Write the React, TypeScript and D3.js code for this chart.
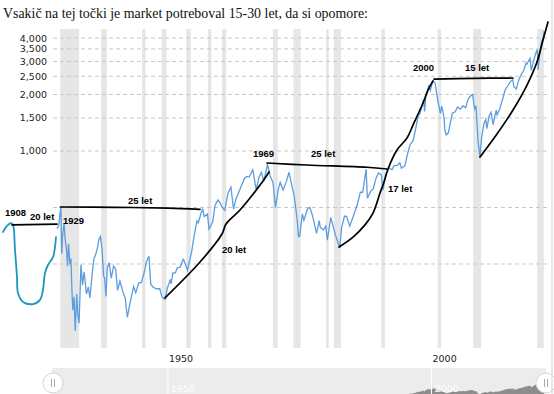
import React from "react";
import * as d3 from "d3";

const title = "Vsakič na tej točki je market potreboval 15-30 let, da si opomore:";

// Log value axis
const gridValues = [250, 500, 1000, 1500, 2000, 2500, 3000, 3500, 4000];
const labelValues = [1000, 1500, 2000, 2500, 3000, 3500, 4000];
const xLabelYears = [1950, 2000];

// Recessions (start, end) in decimal years
const recessionStarts = [1929.58, 1937.33, 1945.08, 1948.83, 1953.5, 1957.58, 1960.25, 1969.92, 1973.83, 1980.0, 1981.5, 1990.5, 2001.17, 2007.92, 2020.08];
const recessionEnds = [1933.17, 1938.42, 1945.75, 1949.75, 1954.33, 1958.25, 1961.08, 1970.83, 1975.17, 1980.5, 1982.83, 1991.17, 2001.83, 2009.42, 2021.3];

// Inflation-adjusted index
const dates = [
  1929.0, 1929.3, 1929.5, 1929.7, 1929.8, 1929.87, 1930.0, 1930.3, 1930.5, 1930.8, 1930.95,
  1931.15, 1931.4, 1931.6, 1931.8, 1931.95, 1932.2, 1932.42, 1932.7, 1932.9, 1933.15, 1933.5,
  1933.8, 1934.1, 1934.55, 1934.9, 1935.2, 1935.6, 1935.95, 1936.3, 1936.6, 1936.9, 1937.2,
  1937.5, 1937.8, 1938.0, 1938.25, 1938.5, 1938.85, 1939.25, 1939.7, 1940.1, 1940.45, 1940.9,
  1941.4, 1941.9, 1942.3, 1942.8, 1943.5, 1943.9, 1944.5, 1944.95, 1945.5, 1945.95, 1946.4,
  1946.75, 1947.2, 1947.9, 1948.45, 1948.9, 1949.45, 1949.9, 1950.45, 1950.6, 1950.95, 1951.4,
  1951.8, 1952.3, 1952.9, 1953.0, 1953.7, 1954.5, 1954.95, 1955.5, 1955.75, 1956.3, 1956.6,
  1956.9, 1957.5, 1957.8, 1958.5, 1958.95, 1959.5, 1959.9, 1960.3, 1960.8, 1961.4, 1961.95,
  1962.45, 1962.9, 1963.5, 1963.95, 1964.5, 1964.95, 1965.45, 1965.95, 1966.1, 1966.75, 1967.3,
  1967.75, 1968.2, 1968.9, 1969.4, 1969.95, 1970.4, 1970.95, 1971.3, 1971.85, 1972.5, 1972.98,
  1973.6, 1973.95, 1974.5, 1974.78, 1975.0, 1975.5, 1975.8, 1976.5, 1976.95, 1977.5, 1978.2,
  1978.7, 1978.9, 1979.5, 1979.95, 1980.25, 1980.9, 1981.4, 1981.8, 1982.6, 1982.95, 1983.5,
  1983.9, 1984.5, 1984.95, 1985.5, 1985.95, 1986.5, 1986.95, 1987.6, 1987.85, 1988.5, 1988.95,
  1989.5, 1989.95, 1990.5, 1990.8, 1991.3, 1991.95, 1992.5, 1992.95, 1993.5, 1994.0, 1994.3,
  1994.95, 1995.5, 1995.95, 1996.5, 1996.95, 1997.5, 1997.8, 1998.5, 1998.7, 1998.95, 1999.5,
  1999.8, 2000.2, 2000.7, 2001.0, 2001.3, 2001.7, 2001.95, 2002.4, 2002.55, 2002.8, 2003.2,
  2003.95, 2004.5, 2004.95, 2005.5, 2005.95, 2006.5, 2006.95, 2007.5, 2007.8, 2008.2, 2008.45,
  2008.85, 2009.2, 2009.5, 2009.95, 2010.3, 2010.5, 2010.95, 2011.3, 2011.7, 2011.95, 2012.3,
  2012.45, 2012.95, 2013.5, 2013.95, 2014.5, 2014.95, 2015.4, 2015.65, 2016.1, 2016.5, 2016.95,
  2017.5, 2017.95, 2018.1, 2018.7, 2018.95, 2019.5, 2019.95, 2020.1, 2020.22, 2020.5, 2020.7,
  2020.95, 2021.2, 2021.35,
];
const values = [
  385, 403, 458, 498, 332, 284, 348, 413, 340, 292, 243,
  320, 249, 267, 178, 142, 167, 110, 173, 136, 121, 248,
  193, 227, 173, 189, 165, 217, 266, 281, 301, 338, 350,
  300, 216, 210, 168, 239, 254, 210, 244, 234, 181, 203,
  180, 164, 130, 154, 190, 176, 199, 199, 225, 258, 275,
  195, 188, 184, 185, 166, 162, 186, 207, 196, 224, 224,
  239, 240, 265, 263, 232, 290, 350, 424, 414, 467, 490,
  447, 461, 384, 420, 514, 548, 529, 502, 483, 596, 641,
  492, 554, 609, 653, 714, 732, 728, 780, 795, 625, 727,
  768, 690, 850, 736, 677, 501, 626, 680, 620, 691, 770,
  638, 578, 438, 350, 351, 462, 427, 494, 499, 446, 364,
  426, 393, 379, 398, 335, 443, 392, 356, 305, 389, 450,
  447, 398, 432, 477, 520, 603, 603, 800, 560, 611, 629,
  719, 763, 745, 620, 748, 812, 795, 835, 838, 865, 810,
  834, 974, 1080, 1135, 1290, 1546, 1579, 1876, 1627, 1992, 2219,
  2106, 2360, 2308, 2022, 1794, 1581, 1733, 1500, 1290, 1217, 1250,
  1588, 1616, 1716, 1670, 1739, 1702, 1889, 1976, 2002, 1675, 1738,
  1125, 925, 1172, 1399, 1476, 1314, 1538, 1608, 1380, 1500, 1652,
  1558, 1676, 1891, 2100, 2234, 2337, 2405, 2200, 2138, 2363, 2531,
  2684, 2937, 2903, 3118, 2688, 3115, 3411, 3442, 2700, 3233, 3494,
  3880, 3950, 4350,
];

// Hand-drawn annotations, as [year, value]
const line1908: [number, number][] = [[1920.42, 404], [1928.96, 408]];
const loop1908: [number, number][] = [
  [1918.71, 370], [1919.47, 399], [1920.23, 413], [1920.61, 404], [1920.99, 297], [1921.37, 213],
  [1921.56, 175], [1922.51, 157], [1924.41, 153], [1925.73, 161], [1926.3, 182], [1926.68, 224],
  [1927.25, 247], [1928.2, 272], [1928.58, 308], [1928.77, 348],
];
const flat1929: [number, number][] = [[1929.6, 503], [1940, 501], [1950, 496], [1956.1, 489]];
const rise1949: [number, number][] = [
  [1949.45, 165], [1956.09, 256], [1960.26, 361], [1961.02, 408], [1963.68, 485], [1968.04, 692], [1969.18, 773],
];
const flat1969: [number, number][] = [[1968.8, 863], [1976.39, 842], [1987.77, 819], [1991.57, 802]];
const rise1982: [number, number][] = [
  [1982.46, 308], [1985.12, 348], [1987.39, 404], [1988.91, 467], [1990.24, 597], [1991.0, 684],
  [1991.76, 802], [1993.46, 1012], [1995.36, 1173], [1996.5, 1375], [1998.4, 1802], [1999.35, 2113], [2000.29, 2360],
];
const flat2000: [number, number][] = [[2000.48, 2418], [2008, 2440], [2015.47, 2448]];
const rise2009: [number, number][] = [
  [2009.21, 929], [2012.43, 1232], [2015.47, 1654], [2018.13, 2247], [2020.02, 2980], [2021.16, 3903], [2022.11, 4868],
];

const noteTexts = ["1908", "20 let", "1929", "25 let", "20 let", "1969", "25 let", "17 let", "2000", "15 let"];
const noteYears = [1919.09, 1923.84, 1930.1, 1942.43, 1960.26, 1966.14, 1977.15, 1991.76, 1996.5, 2006.36];
const noteValues = [450, 429, 408, 522, 286, 929, 929, 605, 2668, 2668];

const W = 554;
const H = 394;
const left = 53;
const right = 549;
const top = 29;
const bottom = 348;

export default function App() {
  const x = d3.scaleLinear().domain([1928.2, 2022.3]).range([left, right]);
  const y = d3.scaleLog().domain([89.2, 4467]).range([bottom, top]);

  const series = dates.map((d, i) => [d, values[i]] as [number, number]);
  const line = d3.line<[number, number]>().x((d) => x(d[0])).y((d) => y(d[1]));
  const hand = d3
    .line<[number, number]>()
    .x((d) => x(d[0]))
    .y((d) => y(d[1]))
    .curve(d3.curveCatmullRom.alpha(0.5));

  // scrollbar
  const sbTop = 368;
  const sbLeft = 52;
  const sbRight = 546;
  const ys = d3.scaleLinear().domain([0, 4500]).range([398, 380]);
  const area = d3
    .area<[number, number]>()
    .x((d) => x(d[0]))
    .y0(398)
    .y1((d) => ys(d[1]));

  const font = "'DejaVu Sans', Verdana, sans-serif";
  const bold = "'Liberation Sans', Arial, sans-serif";

  return (
    <svg
      width={W}
      height={H}
      style={{ position: "absolute", left: 0, top: 0, background: "#fff" }}
    >
      <rect x={0} y={0} width={W} height={H} fill="#fff" />
      <text x={3} y={17.5} fontFamily="'Liberation Serif', 'Times New Roman', serif" fontSize={13.9} fill="#111">
        {title}
      </text>

      <defs>
        <clipPath id="plot">
          <rect x={left} y={top} width={right - left} height={bottom - top} />
        </clipPath>
      </defs>

      {recessionStarts.map((s, i) => (
        <rect
          key={"r" + i}
          x={x(s)}
          y={top}
          width={Math.max(1, x(recessionEnds[i]) - x(s))}
          height={bottom - top}
          fill="#e6e6e6"
        />
      ))}

      {gridValues.map((v) => (
        <line
          key={"g" + v}
          x1={left}
          x2={right}
          y1={y(v)}
          y2={y(v)}
          stroke="#c8c8c8"
          strokeWidth={1}
          strokeDasharray="4,3"
        />
      ))}

      {labelValues.map((v) => (
        <text
          key={"l" + v}
          x={47}
          y={y(v) + 3.5}
          textAnchor="end"
          fontFamily={font}
          fontSize={9.5}
          fill="#222"
        >
          {d3.format(",")(v)}
        </text>
      ))}

      <path d={line(series) || ""} fill="none" stroke="#5b9ddf" strokeWidth={1.3} clipPath="url(#plot)" />

      {xLabelYears.map((yr) => (
        <text
          key={"x" + yr}
          x={x(yr + 2.5)}
          y={362}
          textAnchor="middle"
          fontFamily={font}
          fontSize={9.5}
          fill="#222"
        >
          {yr}
        </text>
      ))}

      {/* scrollbar */}
      <clipPath id="sb">
        <rect x={sbLeft} y={sbTop} width={sbRight - sbLeft} height={H - sbTop} />
      </clipPath>
      <rect x={sbLeft} y={sbTop} width={sbRight - sbLeft} height={H - sbTop} fill="#ececec" />
      <path d={area(series) || ""} fill="#8d8d8d" clipPath="url(#sb)" />
      {xLabelYears.map((yr) => (
        <g key={"s" + yr}>
          <line x1={x(yr)} x2={x(yr)} y1={sbTop} y2={H} stroke="#fff" strokeWidth={1} />
          <text x={x(yr) + 3} y={392} fontFamily={font} fontSize={9.5} fill="#fff">
            {yr}
          </text>
        </g>
      ))}
      {[sbLeft + 1, sbRight].map((gx, i) => (
        <g key={"grip" + i}>
          <circle cx={gx} cy={383} r={10} fill="#fff" stroke="#d5d5d5" strokeWidth={1} />
          <line x1={gx - 1.5} x2={gx - 1.5} y1={379} y2={387} stroke="#aaa" strokeWidth={1} />
          <line x1={gx + 1.5} x2={gx + 1.5} y1={379} y2={387} stroke="#aaa" strokeWidth={1} />
        </g>
      ))}

      {/* hand-drawn annotations */}
      <path d={hand(loop1908) || ""} fill="none" stroke="#1e97bd" strokeWidth={1.8} strokeLinecap="round" />
      {[line1908, flat1929, rise1949, flat1969, rise1982, flat2000, rise2009].map((pts, i) => (
        <path
          key={"a" + i}
          d={hand(pts) || ""}
          fill="none"
          stroke="#000"
          strokeWidth={1.7}
          strokeLinecap="round"
        />
      ))}
      {noteTexts.map((t, i) => (
        <text
          key={"n" + i}
          x={x(noteYears[i])}
          y={y(noteValues[i])}
          fontFamily={bold}
          fontWeight="bold"
          fontSize={9.5}
          fill="#000"
        >
          {t}
        </text>
      ))}

      <line x1={552} x2={552} y1={0} y2={H} stroke="#d0d0d0" strokeWidth={1} />
    </svg>
  );
}
